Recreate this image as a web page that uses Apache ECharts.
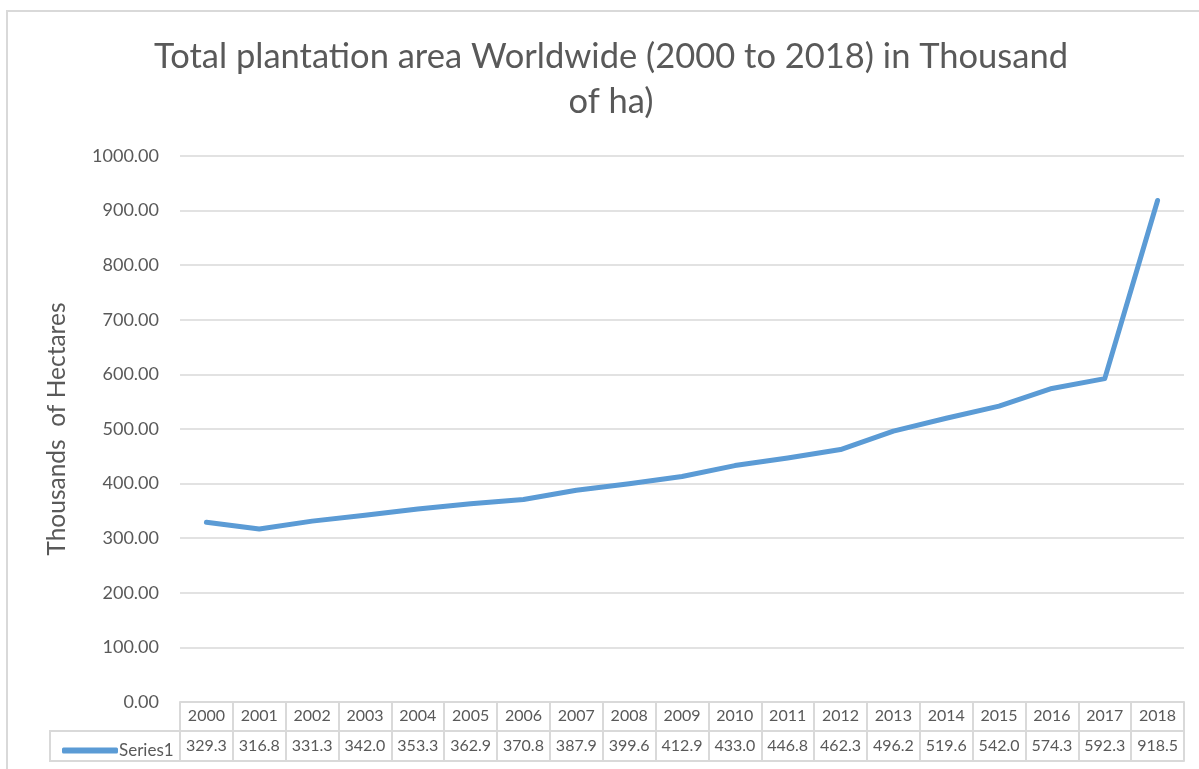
<!DOCTYPE html>
<html>
<head>
<meta charset="utf-8">
<script src="https://cdn.jsdelivr.net/npm/echarts@6/dist/echarts.min.js"></script>
<style>
  html, body { margin: 0; padding: 0; background: #fff; }
  #chart { width: 1199px; height: 769px; }
</style>
</head>
<body>
<div id="chart"></div>
<script>
var years = ["2000","2001","2002","2003","2004","2005","2006","2007","2008","2009",
             "2010","2011","2012","2013","2014","2015","2016","2017","2018"];
var area = [329.3, 316.8, 331.3, 342.0, 353.3, 362.9, 370.8, 387.9, 399.6, 412.9,
            433.0, 446.8, 462.3, 496.2, 519.6, 542.0, 574.3, 592.3, 918.5];
var seriesName = "Series1";

var txt = "#595959";
var border = "#d9d9d9";
var font = "Lato";

// grid edges, the data table hangs below the plot
var gl = 180, gt = 156, gb = 702;

var option = {
  animation: false,
  textStyle: { fontFamily: font },
  title: {
    text: "Total plantation area Worldwide (2000 to 2018) in Thousand\nof ha)",
    left: 606,
    textAlign: "center",
    top: 29,
    textStyle: { fontFamily: font, fontSize: 34.5, fontWeight: "normal", color: txt, lineHeight: 45 }
  },
  legend: {
    data: [{ name: seriesName, icon: "roundRect" }],
    left: 57,
    top: 737,
    itemWidth: 56,
    itemHeight: 6,
    itemGap: 4,
    textStyle: { fontFamily: font, fontSize: 17, color: txt, padding: [0, 0, 0, -4] }
  },
  grid: { left: gl, right: 15, top: gt, bottom: 769 - gb },
  xAxis: [{
    type: "category",
    data: years,
    position: "bottom",
    axisLine: { lineStyle: { color: border, width: 2 } },
    axisTick: { show: true, interval: 0, length: 59, lineStyle: { color: border, width: 2 } },
    axisLabel: { interval: 0, color: txt, fontSize: 16, margin: 6 },
    splitLine: { show: false }
  }, {
    type: "category",
    data: area.map(function (v) { return v.toFixed(1); }),
    position: "bottom",
    offset: 29,
    axisLine: { lineStyle: { color: border, width: 2 } },
    axisTick: { show: false },
    axisLabel: { interval: 0, color: txt, fontSize: 16, margin: 7 },
    splitLine: { show: false }
  }, {
    type: "category",
    data: years,
    position: "bottom",
    offset: 59,
    axisLine: { lineStyle: { color: border, width: 2 } },
    axisTick: { show: false },
    axisLabel: { show: false }
  }],
  yAxis: {
    type: "value",
    min: 0,
    max: 1000,
    interval: 100,
    name: "Thousands  of Hectares",
    nameLocation: "middle",
    nameGap: 110,
    nameTextStyle: { fontFamily: font, fontSize: 24.5, color: txt },
    axisLine: { show: false },
    axisTick: { show: false },
    axisLabel: {
      color: txt, fontSize: 18, margin: 21,
      formatter: function (v) { return v.toFixed(2); }
    },
    splitLine: { lineStyle: { color: border, width: 1.5 } }
  },
  graphic: [
    { type: "rect", shape: { x: 7, y: 11, width: 1300, height: 900 },
      style: { fill: null, stroke: border, lineWidth: 2 }, silent: true },
    // legend cell of the data table
    { type: "polyline", shape: { points: [[gl, gb + 29], [50, gb + 29], [50, gb + 59], [gl, gb + 59]] },
      style: { fill: null, stroke: border, lineWidth: 2 }, silent: true }
  ],
  series: [{
    name: seriesName,
    type: "line",
    data: area,
    showSymbol: false,
    symbol: "none",
    lineStyle: { color: "#5b9bd5", width: 5, cap: "round", join: "round" },
    itemStyle: { color: "#5b9bd5" }
  }]
};

var chart = echarts.init(document.getElementById("chart"));
chart.setOption(option);
</script>
</body>
</html>
